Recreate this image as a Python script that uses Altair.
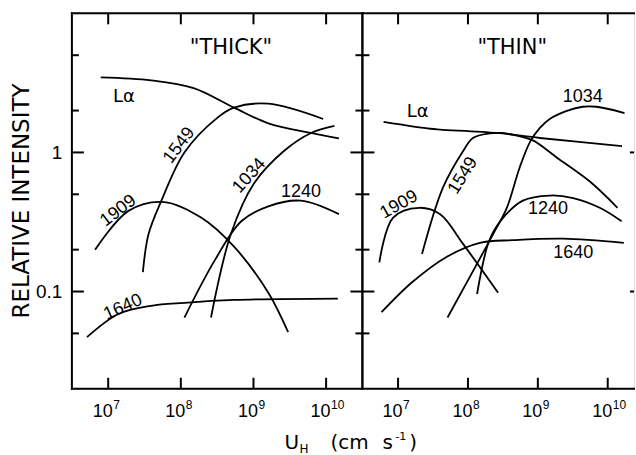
import altair as alt
import pandas as pd

# ---------------- data ----------------
# "THICK" panel
thick_la_x = [7.9e6, 3.9e7, 1.5e8, 5.4e8, 1.6e9, 6.2e9, 1.5e10]
thick_la_y = [3.47, 3.3, 2.9, 2.1, 1.62, 1.38, 1.26]
thick_1549_x = [3.0e7, 3.6e7, 5.4e7, 1.12e8, 3.2e8, 5.4e8, 1.6e9, 9.1e9]
thick_1549_y = [0.138, 0.26, 0.45, 1.0, 1.78, 2.1, 2.24, 1.74]
thick_1909_x = [6.6e6, 1.9e7, 5.9e7, 1.9e8, 5.4e8, 1.6e9, 3.0e9]
thick_1909_y = [0.20, 0.38, 0.44, 0.34, 0.21, 0.098, 0.051]
thick_1034_x = [2.6e8, 4.9e8, 1.02e9, 2.6e9, 6.2e9, 1.3e10]
thick_1034_y = [0.065, 0.26, 0.60, 1.02, 1.38, 1.55]
thick_1240_x = [1.12e8, 2.9e8, 6.8e8, 1.6e9, 4.5e9, 1.5e10]
thick_1240_y = [0.065, 0.166, 0.32, 0.41, 0.45, 0.36]
thick_1640_x = [5.1e6, 1.38e7, 3.9e7, 1.12e8, 5.4e8, 1.45e10]
thick_1640_y = [0.047, 0.069, 0.079, 0.083, 0.087, 0.089]

# "THIN" panel
thin_la_x = [6.2e6, 2.9e7, 4.0e7, 2.6e8, 1.07e9, 1.6e10]
thin_la_y = [1.66, 1.48, 1.46, 1.38, 1.27, 1.11]
thin_1549_x = [2.2e7, 4.4e7, 8.5e7, 1.18e8, 2.05e8, 3.1e8, 5.0e8, 8.5e8, 1.86e9, 5.5e9, 1.38e10]
thin_1549_y = [0.186, 0.56, 1.02, 1.27, 1.37, 1.38, 1.32, 1.22, 0.92, 0.62, 0.40]
thin_1909_x = [5.4e6, 8.5e6, 2.0e7, 4.0e7, 8.5e7, 2.7e8]
thin_1909_y = [0.162, 0.34, 0.40, 0.36, 0.22, 0.098]
thin_1034_x = [5.1e7, 2.45e8, 3.6e8, 5.5e8, 7.8e8, 1.07e9, 1.48e9, 2.6e9, 4.4e9, 6.9e9, 1.74e10]
thin_1034_y = [0.065, 0.275, 0.40, 0.78, 1.20, 1.50, 1.74, 1.99, 2.13, 2.13, 1.92]
thin_1240_x = [1.35e8, 2.0e8, 2.9e8, 6.1e8, 1.48e9, 3.2e9, 7.7e9, 1.58e10]
thin_1240_y = [0.096, 0.23, 0.32, 0.45, 0.49, 0.47, 0.40, 0.32]
thin_1640_x = [5.8e6, 1.6e7, 5.0e7, 1.48e8, 4.4e8, 2.3e9, 1.7e10]
thin_1640_y = [0.071, 0.117, 0.178, 0.224, 0.234, 0.24, 0.224]

# curve labels (text, anchor x, anchor y, rotation)
thick_lab_text = ["Lα", "1549", "1909", "1034", "1240", "1640", '"THICK"']
thick_lab_x = [1.65e7, 9.5e7, 1.38e7, 8.8e8, 4.5e9, 1.6e7, 4.9e8]
thick_lab_y = [2.5, 1.12, 0.38, 0.68, 0.52, 0.077, 5.6]
thick_lab_angle = [0, 307, 323, 312, 0, 336, 0]

thin_lab_text = ["Lα", "1549", "1909", "1034", "1240", "1640", '"THIN"']
thin_lab_x = [1.9e7, 8.5e7, 1.03e7, 4.4e9, 1.4e9, 3.2e9, 4.3e8]
thin_lab_y = [1.95, 0.68, 0.42, 2.5, 0.39, 0.19, 5.6]
thin_lab_angle = [0, 302, 331, 0, 0, 0, 0]

# ticks
x_major = [1e7, 1e8, 1e9, 1e10]
x_exponents = ["7", "8", "9", "10"]
y_major = [0.1, 1]
y_minor = [0.05, 0.2, 0.5, 2, 5]

# ---------------- layout ----------------
H = 376
W_L = 291
W_R = 272
NUM_FONT = "Liberation Sans"
TXT_FONT = "DejaVu Sans"
LW = 1.8
FW = 2

ys = alt.Scale(type="log", domain=[0.02, 10], nice=False)
xs_left = alt.Scale(type="log", domain=[10 ** 6.5, 10 ** 10.5], nice=False)
xs_right = alt.Scale(type="log", domain=[10 ** 6.49, 10 ** 10.376], nice=False)


def curves(series):
    rows = []
    for name, xv, yv in series:
        for i, (a, b) in enumerate(zip(xv, yv)):
            rows.append({"series": name, "x": a, "y": b, "i": i})
    return pd.DataFrame(rows)


def panel(df, labs, xs, W, show_y):
    xaxis = alt.Axis(values=x_major, labelExpr="'10'", ticks=False,
                     domain=False, grid=False, title=None, labelFont=NUM_FONT,
                     labelFontSize=18, labelColor="black", labelPadding=14,
                     labelAlign="right", labelOffset=4)
    if show_y:
        yaxis = alt.Axis(values=y_major, labelExpr="datum.value >= 0.5 ? '1' : '0.1'",
                         ticks=False, domain=False, grid=False, title=None,
                         labelFont=NUM_FONT, labelFontSize=19, labelColor="black",
                         labelPadding=10)
    else:
        yaxis = None

    def X(f="x:Q"):
        return alt.X(f, scale=xs, axis=xaxis)

    def Y(f="y:Q"):
        return alt.Y(f, scale=ys, axis=yaxis)

    base_lines = alt.Chart(df).mark_line(
        interpolate="catmull-rom", color="black", strokeWidth=LW
    ).encode(x=X(), y=Y(), detail="series:N", order="i:Q")
    labdf = pd.DataFrame(labs)
    layers = [base_lines]
    for flt, font, size in (
        ("length(datum.text) == 4", NUM_FONT, 18),
        ("datum.text == 'Lα'", TXT_FONT, 18),
        ("length(datum.text) > 4", TXT_FONT, 21),
    ):
        layers.append(alt.Chart(labdf).transform_filter(flt).mark_text(
            font=font, fontSize=size, color="black", align="center", baseline="middle"
        ).encode(x=X(), y=Y(), text="text:N", angle=alt.Angle("angle:Q", scale=None)))
    ymaj = pd.DataFrame({"y": y_major})
    ymin = pd.DataFrame({"y": y_minor})
    xmaj = pd.DataFrame({"x": x_major, "e": x_exponents})
    # y ticks, left edge inward
    for d, L in ((ymaj, 12), (ymin, 7)):
        layers.append(alt.Chart(d).mark_rule(color="black", strokeWidth=FW).encode(
            y=Y(), x=alt.value(0), x2=alt.value(L)))
    # y ticks on right edge
    if show_y:
        for d, L in ((ymaj, 12), (ymin, 7)):
            layers.append(alt.Chart(d).mark_rule(color="black", strokeWidth=FW).encode(
                y=Y(), x=alt.value(W - L), x2=alt.value(W)))
    else:
        layers.append(alt.Chart(ymaj).mark_rule(color="black", strokeWidth=FW).encode(
            y=Y(), x=alt.value(W - 4), x2=alt.value(W)))
    # x ticks top & bottom
    layers.append(alt.Chart(xmaj).mark_rule(color="black", strokeWidth=FW).encode(
        x=X(), y=alt.value(0), y2=alt.value(11)))
    layers.append(alt.Chart(xmaj).mark_rule(color="black", strokeWidth=FW).encode(
        x=X(), y=alt.value(H - 11), y2=alt.value(H)))
    # exponents of tick labels
    layers.append(alt.Chart(xmaj).mark_text(
        font=NUM_FONT, fontSize=12, color="black", align="left", baseline="alphabetic", dx=5
    ).encode(x=X(), y=alt.value(H + 20), text="e:N"))
    # frame
    one = pd.DataFrame({"a": [0]})
    frame = [
        dict(x=alt.value(0), x2=alt.value(W), y=alt.value(0)),
        dict(x=alt.value(0), x2=alt.value(W), y=alt.value(H)),
        dict(x=alt.value(0), y=alt.value(0), y2=alt.value(H)),
    ]
    if show_y:
        frame.append(dict(x=alt.value(W), y=alt.value(0), y2=alt.value(H)))
    for f in frame:
        layers.append(alt.Chart(one).mark_rule(color="black", strokeWidth=FW,
                                               strokeCap="square").encode(**f))
    return layers


thick_df = curves([
    ("La", thick_la_x, thick_la_y), ("1549", thick_1549_x, thick_1549_y),
    ("1909", thick_1909_x, thick_1909_y), ("1034", thick_1034_x, thick_1034_y),
    ("1240", thick_1240_x, thick_1240_y), ("1640", thick_1640_x, thick_1640_y),
])
thin_df = curves([
    ("La", thin_la_x, thin_la_y), ("1549", thin_1549_x, thin_1549_y),
    ("1909", thin_1909_x, thin_1909_y), ("1034", thin_1034_x, thin_1034_y),
    ("1240", thin_1240_x, thin_1240_y), ("1640", thin_1640_x, thin_1640_y),
])

left_layers = panel(thick_df, {"text": thick_lab_text, "x": thick_lab_x, "y": thick_lab_y,
                               "angle": thick_lab_angle}, xs_left, W_L, True)
right_layers = panel(thin_df, {"text": thin_lab_text, "x": thin_lab_x, "y": thin_lab_y,
                               "angle": thin_lab_angle}, xs_right, W_R, False)

# titles (annotation text) in the left panel
one = pd.DataFrame({"a": [0]})


def txt(s, x, y, size, angle=0, align="left", baseline="alphabetic"):
    kw = dict(font=TXT_FONT, fontSize=size, color="black", align=align, baseline=baseline)
    if angle:
        kw["angle"] = angle
    return alt.Chart(one).mark_text(**kw).encode(
        x=alt.value(x), y=alt.value(y), text=alt.value(s))


left_layers += [
    txt("RELATIVE INTENSITY", -50, 188, 23, angle=270, align="center", baseline="middle"),
    txt("U", 213, 436, 20),
    txt("H", 228, 440, 12),
    txt("(cm", 259, 436, 20),
    txt("s", 311, 436, 20),
    txt("-1", 324, 427, 11),
    txt(")", 338, 436, 20),
    # invisible anchors fixing the outer margins
    alt.Chart(one).mark_rule(color="white", strokeWidth=0.5).encode(
        x=alt.value(-71), y=alt.value(-12), y2=alt.value(-11)),
]

left = alt.layer(*left_layers).properties(width=W_L, height=H)
right = alt.layer(*right_layers).properties(width=W_R, height=H)

chart = alt.hconcat(left, right, spacing=0, bounds="flush").properties(
    padding={"left": 0, "top": 0, "right": 0, "bottom": 0}
).configure_view(stroke="transparent").configure(background="white")

chart.save("out.html", embed_options={"renderer": "svg", "actions": False})
